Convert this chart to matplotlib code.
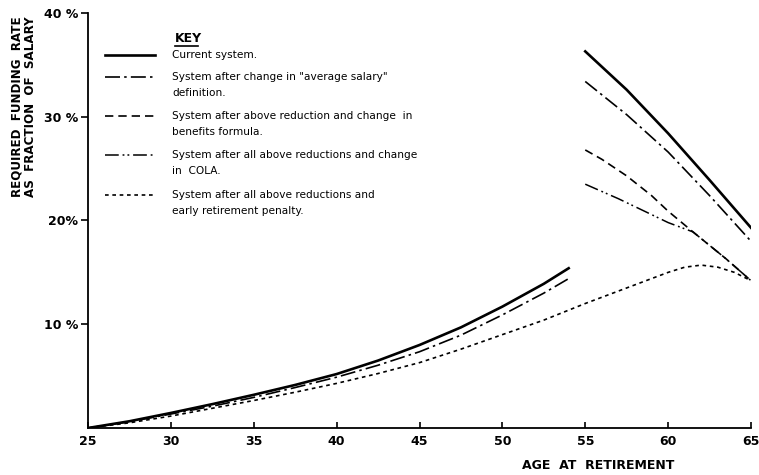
"""Required funding rate vs. age at retirement, five pension-system variants."""

import matplotlib
matplotlib.use("Agg")
import matplotlib.pyplot as plt

# --- data (percent of salary) ---
ages_early = [25, 27.5, 30, 32.5, 35, 37.5, 40, 42.5, 45, 47.5, 50, 52.5, 54]
current_early = [0, 0.65, 1.45, 2.3, 3.2, 4.15, 5.2, 6.5, 8.0, 9.7, 11.7, 13.9, 15.4]
avg_salary_early = [0, 0.6, 1.35, 2.1, 2.95, 3.9, 4.9, 6.05, 7.35, 8.95, 10.9, 13.0, 14.4]

ages_late = [55, 57.5, 60, 62.5, 65]
current_late = [36.3, 32.6, 28.4, 23.9, 19.3]
avg_salary_late = [33.4, 30.2, 26.6, 22.4, 18.0]

ages_benefits = [55, 56, 57.5, 59, 60, 61.5, 63.5, 65]
benefits_late = [26.8, 25.9, 24.3, 22.4, 20.9, 18.9, 16.3, 14.2]

ages_cola = [55, 57, 58.7, 60, 61.5, 63.5, 65]
cola_late = [23.5, 22.1, 20.8, 19.8, 18.9, 16.3, 14.2]

ages_penalty = [25, 27.5, 30, 32.5, 35, 37.5, 40, 42.5, 45, 47.5, 50, 52.5,
                55, 57.5, 60, 61, 62, 63, 64, 65]
penalty = [0, 0.5, 1.15, 1.9, 2.65, 3.45, 4.3, 5.25, 6.3, 7.6, 9.0, 10.4,
           12.0, 13.5, 15.0, 15.5, 15.7, 15.5, 15.0, 14.2]

x_ticks = [25, 30, 35, 40, 45, 50, 55, 60, 65]
y_ticks = [10, 20, 30, 40]
y_tick_labels = ["10 %", "20%", "30 %", "40 %"]

key_labels = [
    "Current system.",
    "System after change in \"average salary\"\ndefinition.",
    "System after above reduction and change  in\nbenefits formula.",
    "System after all above reductions and change\nin  COLA.",
    "System after all above reductions and\nearly retirement penalty.",
]

# line styles
STYLES = [
    dict(lw=1.9, ls="-"),
    dict(lw=1.2, ls=(0, (9, 2.5, 1.5, 2.5))),
    dict(lw=1.2, ls=(0, (5, 3))),
    dict(lw=1.1, ls=(0, (9, 2.5, 1.2, 2, 1.2, 2.5))),
    dict(lw=1.2, ls=(0, (2.2, 2.2))),
]

fig = plt.figure(figsize=(7.59, 4.75), dpi=100)
ax = fig.add_axes([88 / 759, 47 / 475, 663 / 759, 415 / 475])

ax.plot(ages_early, current_early, color="black", **STYLES[0])
ax.plot(ages_late, current_late, color="black", **STYLES[0])
ax.plot(ages_early, avg_salary_early, color="black", **STYLES[1])
ax.plot(ages_late, avg_salary_late, color="black", **STYLES[1])
ax.plot(ages_benefits, benefits_late, color="black", **STYLES[2])
ax.plot(ages_cola, cola_late, color="black", **STYLES[3])
ax.plot(ages_penalty, penalty, color="black", **STYLES[4])

ax.set_xlim(25, 65)
ax.set_ylim(0, 40)
ax.spines["top"].set_visible(False)
ax.spines["right"].set_visible(False)
for s in ("left", "bottom"):
    ax.spines[s].set_linewidth(1.3)

ax.set_xticks(x_ticks)
ax.set_xticklabels([str(t) for t in x_ticks], fontsize=9, fontweight="bold")
ax.set_yticks(y_ticks)
ax.set_yticklabels(y_tick_labels, fontsize=9, fontweight="bold")
ax.tick_params(axis="x", direction="in", length=4, width=1.2, pad=5)
ax.tick_params(axis="y", direction="out", length=5, width=1.2, pad=2)

ax.set_xlabel("AGE  AT  RETIREMENT", fontsize=9, fontweight="bold")
ax.xaxis.set_label_coords(0.77, -0.075)

fig.text(24 / 759, 1 - 107 / 475, "REQUIRED  FUNDING  RATE\nAS  FRACTION  OF  SALARY",
         rotation=90, ha="center", va="center", fontsize=8.6, fontweight="bold",
         linespacing=1.1)

# hand-drawn key
fig.text(175 / 759, 1 - 38 / 475, "KEY", fontsize=9, fontweight="bold",
         va="center")
fig.add_artist(plt.Line2D([175 / 759, 198 / 759], [1 - 46 / 475] * 2,
                          color="black", lw=1.2))
key_y = [55, 77, 116, 155, 195]
for y, label, st in zip(key_y, key_labels, STYLES):
    fig.add_artist(plt.Line2D([105 / 759, 155 / 759], [1 - y / 475] * 2,
                              color="black", **st))
    fig.text(172 / 759, 1 - (y - 5) / 475, label, fontsize=7.6, va="top",
             linespacing=1.75)

fig.savefig("out.png", dpi=100)
